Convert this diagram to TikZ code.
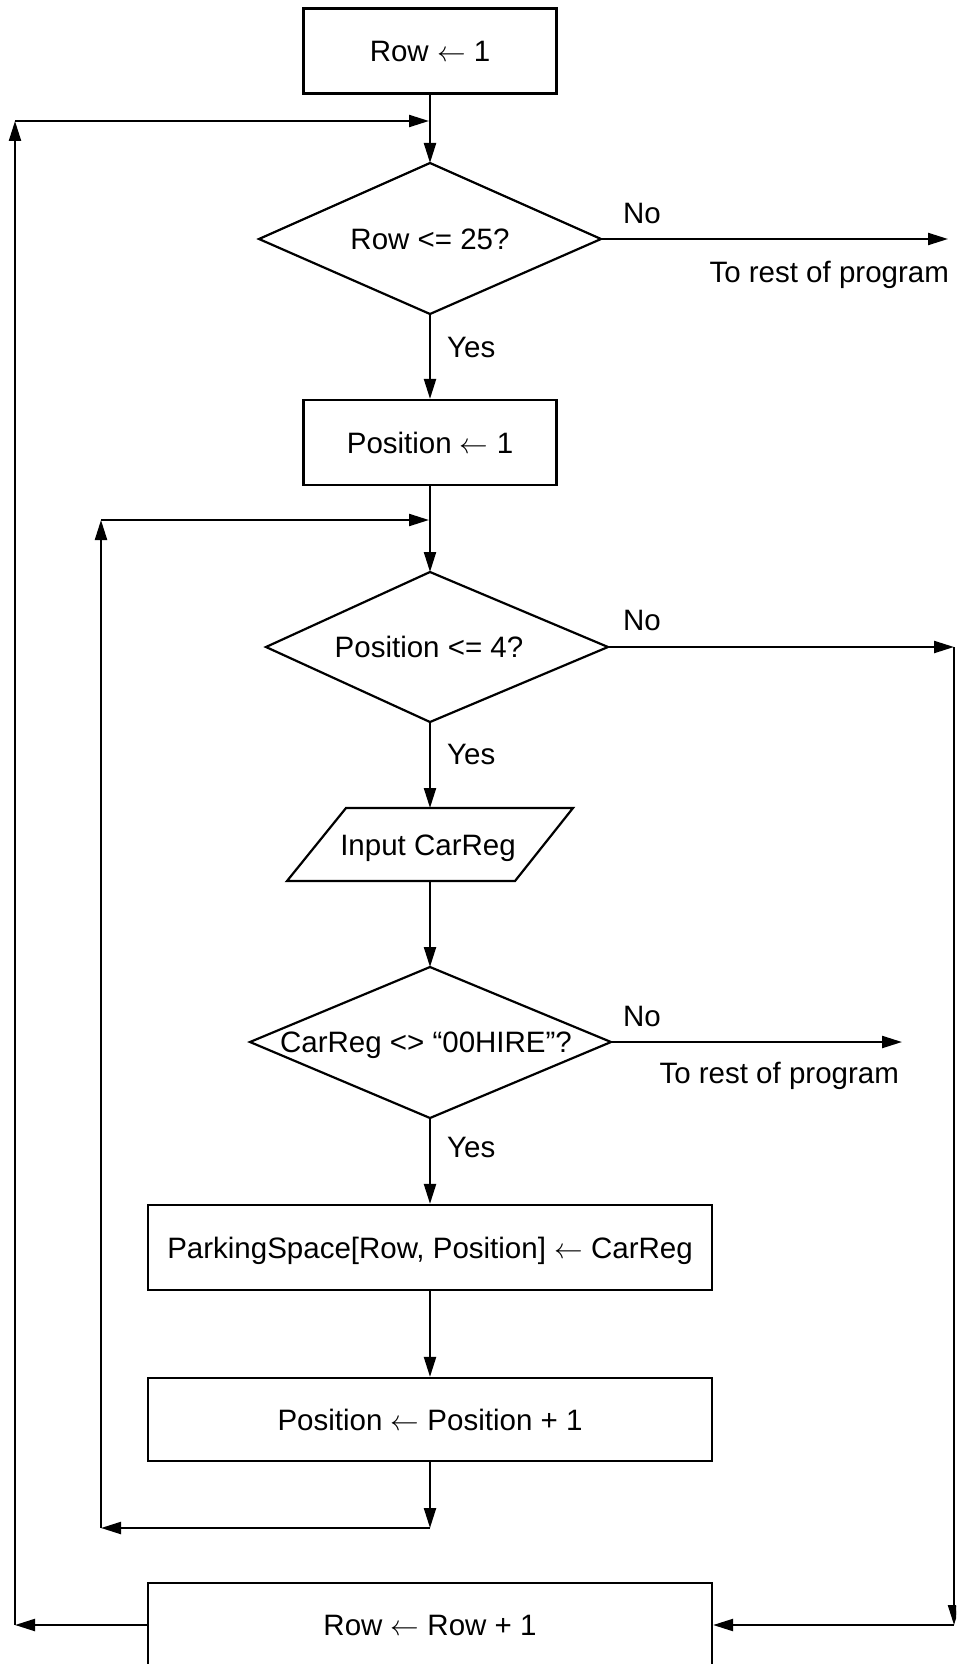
\documentclass[tikz,border=0pt]{standalone}
\usepackage{fontspec}
\usepackage{graphicx}
\setmainfont{Liberation Sans}
\usetikzlibrary{arrows.meta}
\newcommand{\myla}{\scalebox{1.15}{$\leftarrow$}}
\begin{document}
\begin{tikzpicture}[x=1pt,y=-1pt,
  line width=2.2pt,
  every node/.style={font=\fontsize{29.5}{35}\selectfont, inner sep=0pt},
  proc/.style={draw, line width=2.2pt, minimum width=#1, minimum height=85pt, text height=21pt, text depth=0pt},
  txt/.style={text height=21pt, text depth=0pt},
  arr/.style={-{Triangle[length=20pt,width=12pt]}},
  lbl/.style={anchor=base west}]
\useasboundingbox (0,0) rectangle (956,1664);
\clip (0,0) rectangle (956,1664);

% boxes
\node[proc=253pt] (b1) at (430,51) {Row \myla{} 1};
\node[proc=253pt] (b2) at (430,442.5) {Position \myla{} 1};
\node[proc=564pt] (park) at (430,1247.5) {ParkingSpace[Row, Position] \myla{} CarReg};
\node[proc=564pt, minimum height=83pt] (posinc) at (430,1419.5) {Position \myla{} Position + 1};
\node[proc=564pt, minimum height=84pt] (rowinc) at (430,1625) {Row \myla{} Row + 1};

% decision 1
\coordinate (d1t) at (430,163);
\coordinate (d1r) at (601,239);
\coordinate (d1b) at (430,314);
\coordinate (d1l) at (259,239);
\draw (d1t) -- (d1r) -- (d1b) -- (d1l) -- cycle;
\node[txt] (d1) at (430,239) {Row <= 25?};

% decision 2
\coordinate (d2t) at (430,572);
\coordinate (d2r) at (608,647);
\coordinate (d2b) at (430,722);
\coordinate (d2l) at (266,647);
\draw (d2t) -- (d2r) -- (d2b) -- (d2l) -- cycle;
\node[txt] (d2) at (429,647) {Position <= 4?};

% input
\coordinate (inpT) at (430,808);
\coordinate (inpB) at (430,881);
\draw (346,808) -- (573,808) -- (515,881) -- (287,881) -- cycle;
\node[txt] (inp) at (428,844.5) {Input CarReg};

% decision 3
\coordinate (d3t) at (430,967);
\coordinate (d3r) at (611,1042);
\coordinate (d3b) at (430,1118);
\coordinate (d3l) at (250,1042);
\draw (d3t) -- (d3r) -- (d3b) -- (d3l) -- cycle;
\node[txt] (d3) at (426,1042) {CarReg <> “00HIRE”?};

% helper coordinates
\coordinate (oc1) at (15,1625);
\coordinate (oc2) at (15,121);
\coordinate (oc3) at (429,121);
\coordinate (out1) at (948,239);
\coordinate (rc1) at (954,647);
\coordinate (rc2) at (954,1625);
\coordinate (out2) at (902,1042);
\coordinate (lj1) at (430,1528);
\coordinate (lj2) at (101,1528);
\coordinate (lj3) at (101,520);
\coordinate (lj4) at (429,520);

% connectors
\draw[arr] (b1.south) -- (d1t);
\draw[arr] (d1r) -- (out1);
\draw[arr] (d1b) -- (b2.north);
\draw[arr] (b2.south) -- (d2t);
\draw[arr] (d2r) -- (rc1);
\draw[arr] (rc1) -- (rc2);
\draw[arr] (rc2) -- (rowinc.east);
\draw[arr] (d2b) -- (inpT);
\draw[arr] (inpB) -- (d3t);
\draw[arr] (d3r) -- (out2);
\draw[arr] (d3b) -- (park.north);
\draw[arr] (park.south) -- (posinc.north);
\draw[arr] (posinc.south) -- (lj1);
\draw[arr] (lj1) -- (lj2);
\draw[arr] (lj2) -- (lj3);
\draw[arr] (lj3) -- (lj4);
\draw[arr] (rowinc.west) -- (oc1);
\draw[arr] (oc1) -- (oc2);
\draw[arr] (oc2) -- (oc3);

% labels
\node[lbl] (no1) at (622,223) {No};
\node[anchor=base east] (rest1) at (950,282) {To rest of program};
\node[lbl] (yes1) at (446,357) {Yes};
\node[lbl] (no2) at (622,630) {No};
\node[lbl] (yes2) at (446,764) {Yes};
\node[lbl] (no3) at (622,1026) {No};
\node[anchor=base east] (rest2) at (900,1083) {To rest of program};
\node[lbl] (yes3) at (446,1157) {Yes};
\end{tikzpicture}
\end{document}
